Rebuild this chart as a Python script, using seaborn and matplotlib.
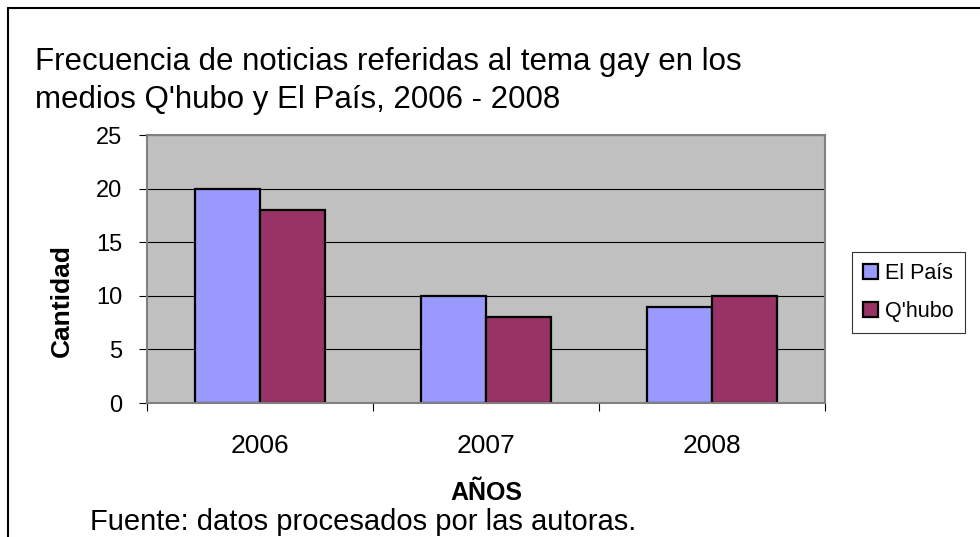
import matplotlib
matplotlib.use("Agg")
import matplotlib.pyplot as plt
from matplotlib.patches import Patch
from matplotlib.lines import Line2D
import seaborn as sns
import pandas as pd

years = ["2006", "2007", "2008"]
el_pais = [20, 10, 9]
qhubo = [18, 8, 10]
series = ["El País", "Q'hubo"]
colors = ["#9999FF", "#993366"]

df = pd.DataFrame({
    "year": years * 2,
    "medio": [series[0]] * 3 + [series[1]] * 3,
    "cantidad": el_pais + qhubo,
})

sns.set_theme(style="white")
plt.rcParams["font.family"] = ["Liberation Sans", "DejaVu Sans"]
plt.rcParams["text.color"] = "black"
plt.rcParams["axes.labelcolor"] = "black"
plt.rcParams["xtick.color"] = "black"
plt.rcParams["ytick.color"] = "black"

fig = plt.figure(figsize=(9.8, 5.37), dpi=100)
ax = fig.add_axes([147 / 980, 1 - 403 / 537, 678 / 980, 268 / 537])
ax.set_facecolor("#C0C0C0")

sns.barplot(data=df, x="year", y="cantidad", hue="medio", palette=colors,
            saturation=1, width=0.575, edgecolor="black", linewidth=1.6,
            ax=ax, legend=False)

ax.set_ylim(0, 25)
ax.set_yticks([0, 5, 10, 15, 20, 25])
ax.yaxis.grid(True, color="black", linewidth=0.8)
ax.set_axisbelow(True)
for s in ["top", "right", "left", "bottom"]:
    ax.spines[s].set_color("#808080")
    ax.spines[s].set_linewidth(1.5)

ax.tick_params(axis="y", labelsize=17, length=6, width=0.8, color="black",
               direction="out", left=True, pad=12)
ax.tick_params(axis="x", labelsize=19, length=0, pad=22)
# category separator ticks
ax.set_xticks([-0.5, 0.5, 1.5, 2.5], minor=True)
ax.tick_params(axis="x", which="minor", length=6, width=0.8, color="black",
               bottom=True)
ax.set_xlim(-0.5, 2.5)

ax.set_xlabel("AÑOS", fontsize=18, fontweight="bold", labelpad=17)
ax.set_ylabel("Cantidad", fontsize=19, fontweight="bold")
ax.yaxis.set_label_coords(-0.108, 0.384)

fig.text(35 / 980, 1 - 70 / 537, "Frecuencia de noticias referidas al tema gay en los",
         fontsize=22.5, va="baseline", ha="left")
fig.text(35 / 980, 1 - 108 / 537, "medios Q'hubo y El País, 2006 - 2008",
         fontsize=22.5, va="baseline", ha="left")
fig.text(90 / 980, 1 - 530 / 537, "Fuente: datos procesados por las autoras.",
         fontsize=21, va="baseline", ha="left")

handles = [Patch(facecolor=c, edgecolor="black", linewidth=1.6) for c in colors]
leg = fig.legend(handles, series, loc="upper left",
                 bbox_to_anchor=(852 / 980, 1 - 252 / 537),
                 frameon=True, fontsize=15.5, handlelength=0.7, handleheight=0.7,
                 handletextpad=0.35, borderpad=0.5, labelspacing=0.8,
                 borderaxespad=0, fancybox=False)
leg.get_frame().set_edgecolor("black")
leg.get_frame().set_linewidth(0.8)

# outer chart border
fig.add_artist(Line2D([8 / 980, 8 / 980], [0, 1 - 8 / 537], transform=fig.transFigure,
                      color="black", linewidth=1.5))
fig.add_artist(Line2D([8 / 980, 1], [1 - 8 / 537, 1 - 8 / 537], transform=fig.transFigure,
                      color="black", linewidth=1.5))

fig.savefig("out.png", dpi=100, facecolor="white")
